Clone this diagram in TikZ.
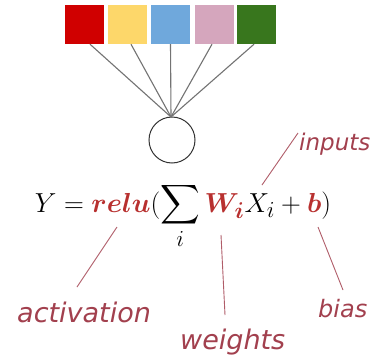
\documentclass[tikz,border=0pt]{standalone}
\usepackage{fontspec}
\usepackage{amsmath}
\usepackage{bm}
\usepackage{graphicx}
\newfontfamily\handfont{DejaVu Sans}
\usetikzlibrary{calc}
\definecolor{sqred}{HTML}{D00000}
\definecolor{sqyellow}{HTML}{FDD76A}
\definecolor{sqblue}{HTML}{6FA8DC}
\definecolor{sqpink}{HTML}{D5A6BD}
\definecolor{sqgreen}{HTML}{38761D}
\definecolor{frmred}{HTML}{B8302F}
\definecolor{handred}{HTML}{A2404E}
\begin{document}
\begin{tikzpicture}[x=1pt,y=-1pt,
  sq/.style={draw=none,minimum width=39pt,minimum height=39pt,inner sep=0pt},
  fan/.style={draw=black!55,line width=1.1pt},
  neuron/.style={circle,draw=black!80,line width=1pt,minimum size=46pt,inner sep=0pt},
  hand/.style={font=\handfont\itshape\fontsize{27}{30}\selectfont,text=handred,inner sep=0pt},
  handline/.style={draw=handred!85,line width=0.9pt}]
\useasboundingbox (0,0) rectangle (372,359);
\fill[white] (0,0) rectangle (372,359);
\node[sq,fill=sqred]    (s1) at (84.5,24.5) {};
\node[sq,fill=sqyellow] (s2) at (127.5,24.5) {};
\node[sq,fill=sqblue]   (s3) at (170.5,24.5) {};
\node[sq,fill=sqpink]   (s4) at (214,24.5) {};
\node[sq,fill=sqgreen]  (s5) at (256.5,24.5) {};
\node[neuron] (c) at (172,140) {};
\coordinate (top) at (171,117);
\draw[fan] ($(s1.south)+(5.5,0)$) -- (top);
\draw[fan] ($(s2.south)+(3.5,0)$) -- (top);
\draw[fan] (s3.south) -- (top);
\draw[fan] ($(s4.south)+(-2,0)$) -- (top);
\draw[fan] ($(s5.south)+(-2.5,0)$) -- (top);
\node[anchor=base,inner sep=0pt,font=\fontsize{24.88}{30}\selectfont] (f) at (183,212)
  {\scalebox{1.105}{$\displaystyle Y=\textcolor{frmred}{\bm{relu}}(\sum_i \textcolor{frmred}{\bm{W_i}}X_i+\textcolor{frmred}{\bm{b}})$}};
\node[hand,anchor=west,font=\handfont\itshape\fontsize{23}{26}\selectfont] (inp) at (299,144) {inputs};
\node[hand,anchor=west] (act) at (17,312) {activation};
\node[hand,anchor=west] (wts) at (180,342) {weights};
\node[hand,anchor=west,font=\handfont\itshape\fontsize{24}{26}\selectfont] (bia) at (318,309) {bias};
\coordinate (pinp) at (262,185);
\coordinate (pinpt) at (298,133);
\coordinate (pact) at (117,227);
\coordinate (pactb) at (77,287);
\coordinate (pw) at (221,235);
\coordinate (pwb) at (225,315);
\coordinate (pb) at (318,227);
\coordinate (pbb) at (343,290);
\draw[handline] (pinpt) -- (pinp);
\draw[handline] (pact) -- (pactb);
\draw[handline] (pw) -- (pwb);
\draw[handline] (pb) -- (pbb);
\end{tikzpicture}
\end{document}
